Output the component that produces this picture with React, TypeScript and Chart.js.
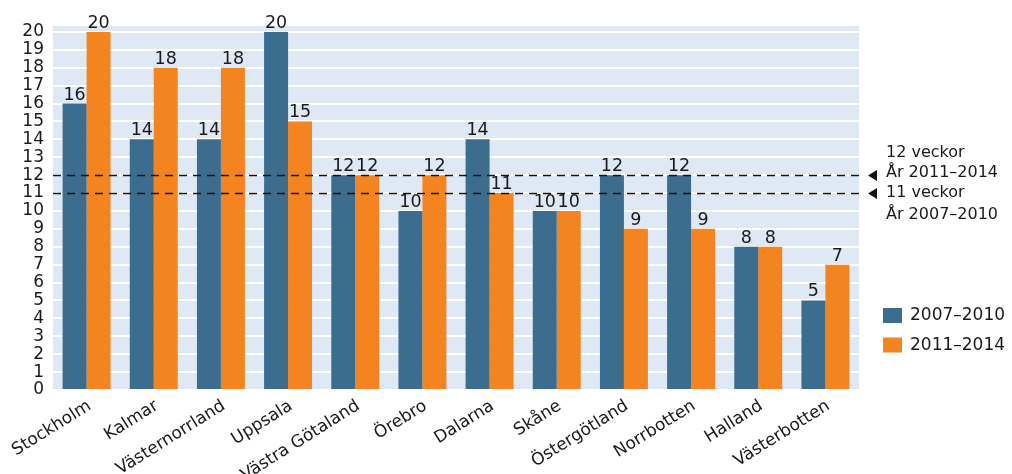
import React, { useEffect, useRef } from "react";
import { Chart, registerables } from "chart.js";

Chart.register(...registerables);

const regions = [
  "Stockholm",
  "Kalmar",
  "Västernorrland",
  "Uppsala",
  "Västra Götaland",
  "Örebro",
  "Dalarna",
  "Skåne",
  "Östergötland",
  "Norrbotten",
  "Halland",
  "Västerbotten",
];

const weeks2007to2010 = [16, 14, 14, 20, 12, 10, 14, 10, 12, 12, 8, 5];
const weeks2011to2014 = [20, 18, 18, 15, 12, 12, 11, 10, 9, 9, 8, 7];

const yTickValues = [0, 1, 2, 3, 4, 5, 6, 7, 8, 9, 10, 11, 12, 13, 14, 15, 16, 17, 18, 19, 20];

const seriesNames = ["2007–2010", "2011–2014"];
const seriesColors = ["#3d6d8e", "#f4841f"];

// national reference levels: [value, first line, second line]
const referenceLines: [number, string, string][] = [
  [12, "12 veckor", "År 2011–2014"],
  [11, "11 veckor", "År 2007–2010"],
];

const FONT = "'DejaVu Sans', sans-serif";
const TEXT = "#1a1a1a";

const overlayPlugin = {
  id: "overlay",
  beforeDraw(chart: any) {
    const { ctx, chartArea } = chart;
    ctx.save();
    ctx.fillStyle = "#dfe8f5";
    ctx.fillRect(chartArea.left, chartArea.top, chartArea.right - chartArea.left, chartArea.bottom - chartArea.top);
    ctx.restore();
  },
  afterDatasetsDraw(chart: any) {
    const { ctx, chartArea } = chart;
    const yScale = chart.scales.y;
    ctx.save();

    // value labels above each bar
    ctx.font = `17.5px ${FONT}`;
    ctx.fillStyle = TEXT;
    ctx.textAlign = "center";
    ctx.textBaseline = "alphabetic";
    chart.data.datasets.forEach((ds: any, di: number) => {
      const meta = chart.getDatasetMeta(di);
      meta.data.forEach((bar: any, i: number) => {
        ctx.fillText(String(ds.data[i]), bar.x, bar.y - 4);
      });
    });

    // dashed reference lines with pointers and captions
    referenceLines.forEach(([value, line1, line2], idx) => {
      const y = Math.round(yScale.getPixelForValue(value)) + 0.5;
      ctx.strokeStyle = "#111";
      ctx.lineWidth = 1.3;
      ctx.setLineDash([8, 6]);
      ctx.beginPath();
      ctx.moveTo(chartArea.left, y);
      ctx.lineTo(chartArea.right, y);
      ctx.stroke();
      ctx.setLineDash([]);

      ctx.fillStyle = "#111";
      ctx.beginPath();
      ctx.moveTo(868, y);
      ctx.lineTo(877, y - 5.5);
      ctx.lineTo(877, y + 5.5);
      ctx.closePath();
      ctx.fill();

      ctx.fillStyle = TEXT;
      ctx.font = `16px ${FONT}`;
      ctx.textAlign = "left";
      ctx.textBaseline = "middle";
      if (idx === 0) {
        ctx.fillText(line1, 886, y - 23);
        ctx.fillText(line2, 886, y - 3);
      } else {
        ctx.fillText(line1, 886, y - 1);
        ctx.fillText(line2, 886, y + 21);
      }
    });

    // legend
    ctx.font = `17px ${FONT}`;
    ctx.textAlign = "left";
    ctx.textBaseline = "middle";
    seriesNames.forEach((name, i) => {
      const top = 308 + i * 29.5;
      ctx.fillStyle = seriesColors[i];
      ctx.fillRect(883, top, 19, 15);
      ctx.fillStyle = TEXT;
      ctx.fillText(name, 910, top + 8);
    });

    ctx.restore();
  },
};

export default function App() {
  const canvasRef = useRef<HTMLCanvasElement | null>(null);

  useEffect(() => {
    if (!canvasRef.current) return;
    const chart = new Chart(canvasRef.current, {
      type: "bar",
      data: {
        labels: regions,
        datasets: [
          {
            label: seriesNames[0],
            data: weeks2007to2010,
            backgroundColor: seriesColors[0],
            barPercentage: 1,
            categoryPercentage: 0.714,
          },
          {
            label: seriesNames[1],
            data: weeks2011to2014,
            backgroundColor: seriesColors[1],
            barPercentage: 1,
            categoryPercentage: 0.714,
          },
        ],
      },
      options: {
        animation: false,
        responsive: true,
        maintainAspectRatio: false,
        layout: { padding: { top: 26, right: 153, left: 0, bottom: 0 } },
        plugins: {
          legend: { display: false },
          tooltip: { enabled: false },
        },
        scales: {
          x: {
            grid: { display: false },
            border: { display: false },
            ticks: {
              color: TEXT,
              font: { family: FONT, size: 17 },
              minRotation: 32,
              maxRotation: 32,
              autoSkip: false,
              padding: -2,
              labelOffset: 3,
            },
            afterFit(scale: any) {
              scale.height = 84;
            },
          },
          y: {
            min: 0,
            max: 20.33,
            grid: { color: "#ffffff", lineWidth: 2, drawTicks: false },
            border: { display: false },
            ticks: {
              autoSkip: false,
              color: TEXT,
              font: { family: FONT, size: 17 },
              padding: 9,
            },
            afterBuildTicks(scale: any) {
              scale.ticks = yTickValues.map((value) => ({ value }));
            },
            afterFit(scale: any) {
              scale.width = 53;
            },
          },
        },
      },
      plugins: [overlayPlugin],
    });
    return () => chart.destroy();
  }, []);

  return (
    <div style={{ position: "absolute", left: 0, top: 0, width: 1012, height: 474 }}>
      <canvas ref={canvasRef} />
    </div>
  );
}
